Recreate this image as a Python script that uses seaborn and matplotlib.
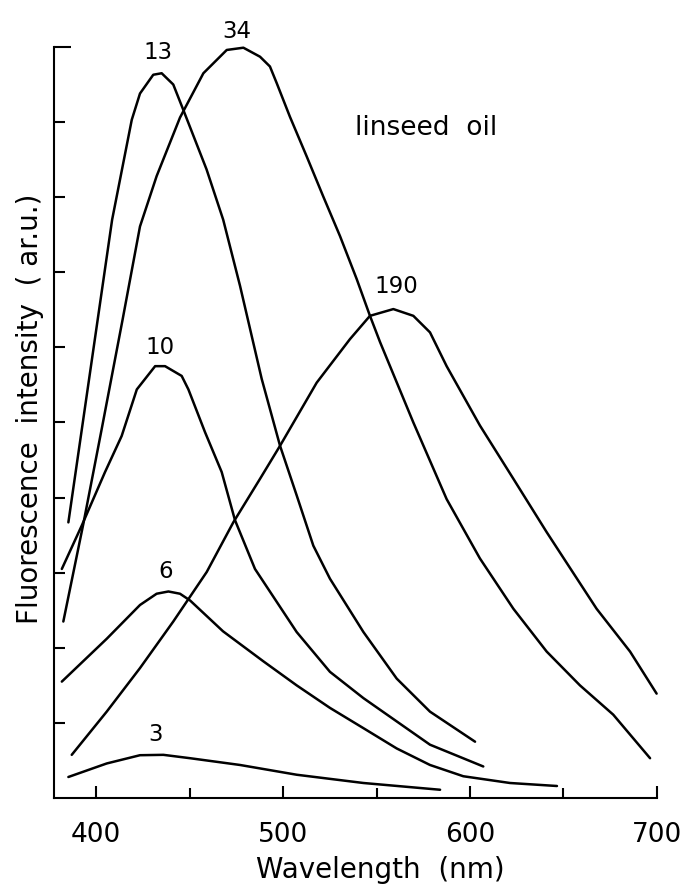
import numpy as np
import pandas as pd
import matplotlib
matplotlib.use("Agg")
import matplotlib.pyplot as plt
from matplotlib.ticker import FixedLocator, NullFormatter
import seaborn as sns

# ---- data (wavelength in nm, intensity in arb. units) ----
wl_3 = [385.2, 405.7, 423.5, 436.0, 450.3, 477.0, 507.3, 543.0, 584.0]
int_3 = [0.28, 0.46, 0.57, 0.575, 0.53, 0.44, 0.31, 0.20, 0.11]

wl_6 = [381.7, 405.7, 423.5, 432.4, 438.7, 444.9, 450.3, 467.9, 489.5, 507.3, 525.1,
        543.0, 560.8, 578.6, 596.4, 621.4, 646.5]
int_6 = [1.55, 2.12, 2.57, 2.72, 2.75, 2.72, 2.63, 2.22, 1.82, 1.50, 1.20,
         0.93, 0.66, 0.44, 0.29, 0.20, 0.16]

wl_10 = [381.7, 392.4, 404.8, 413.7, 421.8, 431.6, 436.9, 445.8, 449.4, 458.3, 467.2,
         474.3, 485.0, 507.3, 525.1, 543.0, 560.8, 578.6, 607.1]
int_10 = [3.05, 3.63, 4.34, 4.82, 5.44, 5.75, 5.75, 5.62, 5.44, 4.87, 4.34,
          3.70, 3.05, 2.21, 1.68, 1.33, 1.02, 0.71, 0.42]

wl_13 = [385.2, 408.6, 419.1, 423.5, 430.6, 435.1, 441.3, 446.7, 459.1, 468.0,
         477.0, 488.6, 498.4, 507.3, 516.2, 525.1, 543.0, 560.8, 578.6, 602.7]
int_13 = [3.67, 7.70, 9.03, 9.38, 9.63, 9.65, 9.50, 9.16, 8.37, 7.70,
          6.82, 5.58, 4.69, 4.03, 3.36, 2.92, 2.21, 1.59, 1.15, 0.75]

wl_34 = [382.5, 393.2, 403.0, 414.2, 423.5, 432.4, 444.9, 457.4, 469.9, 478.8, 487.7,
         493.0, 496.6, 503.7, 512.7, 521.5, 530.5, 539.4, 546.5, 551.9, 569.7, 587.5,
         605.3, 623.2, 641.0, 658.8, 676.6, 696.3]
int_34 = [2.35, 3.65, 4.91, 6.37, 7.61, 8.28, 9.06, 9.65, 9.96, 9.99, 9.87,
          9.74, 9.52, 9.07, 8.54, 8.01, 7.48, 6.91, 6.42, 6.07, 5.00, 3.98,
          3.19, 2.52, 1.95, 1.50, 1.11, 0.53]

wl_190 = [387.0, 405.7, 423.5, 441.3, 459.2, 473.4, 487.7, 498.4, 518.0, 535.8, 546.5,
          559.0, 569.7, 578.6, 587.5, 605.3, 623.2, 641.0, 667.7, 685.6, 699.8]
int_190 = [0.575, 1.15, 1.73, 2.35, 3.01, 3.67, 4.25, 4.69, 5.53, 6.11, 6.42,
           6.51, 6.42, 6.20, 5.75, 4.96, 4.25, 3.54, 2.52, 1.95, 1.39]

curve_names = ["3", "6", "10", "13", "34", "190"]
# label anchor positions (data coords)
label_x = [431.6, 437.4, 434.2, 433.2, 475.4, 560.8]
label_y = [0.85, 3.02, 6.00, 9.92, 10.21, 6.81]

x_ticks = [400, 500, 600, 700]
x_minor = [450, 550, 650]
y_ticks = [1, 2, 3, 4, 5, 6, 7, 8, 9]

# ---- long-format table ----
series = {"3": (wl_3, int_3), "6": (wl_6, int_6), "10": (wl_10, int_10),
          "13": (wl_13, int_13), "34": (wl_34, int_34), "190": (wl_190, int_190)}
frames = []
for name in curve_names:
    w, v = series[name]
    frames.append(pd.DataFrame({"wavelength": w, "intensity": v, "curve": name}))
df = pd.concat(frames, ignore_index=True)

sns.set_style("ticks")
plt.rcParams["font.family"] = ["DejaVu Sans"]
for key in ["text.color", "axes.labelcolor", "xtick.color", "ytick.color", "axes.edgecolor"]:
    plt.rcParams[key] = "black"

fig = plt.figure(figsize=(6.92, 8.86), dpi=100)
ax = fig.add_axes([0.078, 0.0993, 0.8714, 0.8477])

sns.lineplot(data=df, x="wavelength", y="intensity", units="curve", estimator=None,
             sort=False, color="black", linewidth=1.8, ax=ax, legend=False)
for line in ax.lines:
    line.set_clip_on(False)
    line.set_solid_joinstyle("round")

ax.set_xlim(377.5, 700)
ax.set_ylim(0, 10)

for name, lx, ly in zip(curve_names, label_x, label_y):
    ax.text(lx, ly, name, ha="center", va="center", fontsize=16.5, color="black")

ax.text(538.5, 8.83, "linseed  oil", ha="left", va="baseline", fontsize=19)

sns.despine(ax=ax, top=True, right=True)
for s in ["left", "bottom"]:
    ax.spines[s].set_linewidth(1.5)
    ax.spines[s].set_color("black")

ax.xaxis.set_major_locator(FixedLocator(x_ticks))
ax.xaxis.set_minor_locator(FixedLocator(x_minor))
ax.yaxis.set_major_locator(FixedLocator(y_ticks))
ax.yaxis.set_minor_locator(FixedLocator([10]))
ax.yaxis.set_major_formatter(NullFormatter())
ax.yaxis.set_minor_formatter(NullFormatter())

ax.tick_params(axis="x", which="major", direction="in", length=9, width=1.5,
               labelsize=19, pad=17, colors="black")
ax.tick_params(axis="x", which="minor", direction="in", length=7, width=1.5, colors="black")
ax.tick_params(axis="y", which="major", direction="in", length=8, width=1.5, colors="black")
ax.tick_params(axis="y", which="minor", direction="in", length=12, width=1.5, colors="black")

ax.set_xlabel("Wavelength  (nm)", fontsize=20, color="black")
ax.set_ylabel("Fluorescence  intensity  ( ar.u.)", fontsize=20, color="black")
ax.xaxis.set_label_coords(0.542, -0.077)
ax.yaxis.set_label_coords(-0.017, 0.518)

fig.savefig("out.png", dpi=100)
